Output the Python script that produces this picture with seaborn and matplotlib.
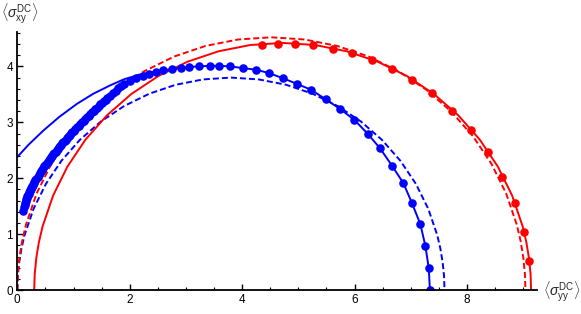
"""Semicircle plot: <sigma_xy^DC> against <sigma_yy^DC>, two samples (blue, red)."""

import matplotlib
matplotlib.use("Agg")
import matplotlib.pyplot as plt
from matplotlib.ticker import MultipleLocator
import seaborn as sns

sns.set_style("white")
plt.rcParams.update({
    "font.family": ["Liberation Sans", "DejaVu Sans"],
    "mathtext.fontset": "custom",
    "mathtext.rm": "Liberation Sans",
    "mathtext.it": "Liberation Sans:italic",
    "mathtext.bf": "Liberation Sans:bold",
})

BLUE = "#0000FF"
RED = "#FF0000"

# blue data points (very dense at small sigma_yy, forming a thick band)
blue_pts_x = [0.11, 0.12, 0.13, 0.14, 0.15, 0.16, 0.17, 0.18, 0.19, 0.20,
              0.21, 0.22, 0.23, 0.24, 0.25, 0.26, 0.27, 0.28, 0.29, 0.30,
              0.32, 0.34, 0.36, 0.38, 0.40, 0.42, 0.44, 0.46, 0.48, 0.50,
              0.52, 0.54, 0.56, 0.58, 0.60, 0.62, 0.64, 0.66, 0.68, 0.70,
              0.72, 0.74, 0.76, 0.78, 0.80, 0.82, 0.84, 0.86, 0.88, 0.90,
              0.92, 0.94, 0.96, 0.98, 1.00,
              1.03, 1.06, 1.09, 1.12, 1.15, 1.18, 1.21, 1.24, 1.27, 1.30,
              1.33, 1.36, 1.39, 1.42, 1.45, 1.48, 1.51, 1.54, 1.57, 1.60,
              1.65, 1.70, 1.75, 1.80, 1.85, 1.90,
              2.01, 2.12, 2.23, 2.35, 2.47, 2.60, 2.75, 2.91, 3.06,
              3.23, 3.42, 3.59, 3.78, 4.01, 4.25, 4.48, 4.72, 4.97, 5.23, 5.49, 5.74,
              5.99, 6.23, 6.45, 6.67, 6.87, 7.02, 7.17, 7.26, 7.32, 7.34]
blue_pts_y = [1.410, 1.483, 1.526, 1.562, 1.594, 1.623, 1.650, 1.676, 1.700, 1.724,
              1.747, 1.769, 1.790, 1.811, 1.831, 1.851, 1.870, 1.889, 1.907, 1.926,
              1.961, 1.995, 2.028, 2.061, 2.092, 2.123, 2.153, 2.183, 2.212, 2.240,
              2.268, 2.296, 2.323, 2.350, 2.376, 2.402, 2.427, 2.453, 2.478, 2.502,
              2.527, 2.551, 2.575, 2.599, 2.622, 2.645, 2.668, 2.691, 2.713, 2.736,
              2.758, 2.780, 2.802, 2.823, 2.845,
              2.877, 2.908, 2.939, 2.970, 3.001, 3.031, 3.061, 3.091, 3.120, 3.150,
              3.179, 3.207, 3.236, 3.264, 3.292, 3.320, 3.347, 3.375, 3.402, 3.429,
              3.474, 3.518, 3.562, 3.605, 3.648, 3.690,
              3.745, 3.790, 3.830, 3.865, 3.900, 3.930, 3.950, 3.970, 3.990,
              4.00, 4.01, 4.01, 4.00, 3.97, 3.94, 3.88, 3.79, 3.69, 3.58, 3.41, 3.24,
              3.05, 2.80, 2.54, 2.22, 1.91, 1.56, 1.18, 0.79, 0.39, 0.00]

# blue solid curve
blue_fit_x = [0.00, 0.20, 0.46, 0.75, 1.06, 1.35, 1.65, 1.90, 2.20, 2.47, 2.60, 2.75,
              2.91, 3.06, 3.23, 3.42, 3.59, 3.78, 4.01, 4.25, 4.48, 4.72, 4.97, 5.23,
              5.49, 5.74, 5.99, 6.23, 6.45, 6.67, 6.87, 7.02, 7.17, 7.26, 7.32, 7.34]
blue_fit_y = [2.38, 2.60, 2.85, 3.10, 3.33, 3.51, 3.66, 3.77, 3.86, 3.91, 3.93, 3.95,
              3.97, 3.99, 4.00, 4.01, 4.01, 4.00, 3.97, 3.94, 3.88, 3.79, 3.69, 3.58,
              3.41, 3.24, 3.05, 2.80, 2.54, 2.22, 1.91, 1.56, 1.18, 0.79, 0.39, 0.00]

# blue dashed semicircle
blue_dash_x = [0.000, 0.008, 0.033, 0.073, 0.129, 0.289, 0.509, 0.785, 1.113, 1.487,
               1.900, 2.346, 2.816, 3.304, 3.800, 4.296, 4.784, 5.254, 5.700, 6.113,
               6.487, 6.815, 7.091, 7.311, 7.471, 7.527, 7.567, 7.592, 7.600]
blue_dash_y = [0.000, 0.249, 0.496, 0.741, 0.984, 1.454, 1.900, 2.313, 2.687, 3.015,
               3.291, 3.511, 3.671, 3.767, 3.800, 3.767, 3.671, 3.511, 3.291, 3.015,
               2.687, 2.313, 1.900, 1.454, 0.984, 0.741, 0.496, 0.249, 0.000]

# red data points
red_pts_x = [4.35, 4.63, 4.94, 5.26, 5.61, 5.95, 6.31, 6.66, 7.02, 7.38, 7.73, 8.07,
             8.37, 8.63, 8.86, 9.02, 9.11]
red_pts_y = [4.38, 4.40, 4.40, 4.38, 4.31, 4.24, 4.12, 3.95, 3.75, 3.52, 3.21, 2.86,
             2.47, 2.03, 1.56, 1.04, 0.52]

# red solid curve
red_fit_x = [0.300, 0.310, 0.338, 0.385, 0.451, 0.637, 0.892, 1.213, 1.595, 2.029,
             2.510, 3.029, 3.576, 4.143, 4.720, 5.297, 5.864, 6.411, 6.930, 7.411,
             7.845, 8.227, 8.548, 8.803, 8.989, 9.055, 9.102, 9.131, 9.140]
red_fit_y = [0.000, 0.289, 0.577, 0.862, 1.144, 1.691, 2.210, 2.691, 3.125, 3.507,
             3.828, 4.084, 4.269, 4.382, 4.420, 4.382, 4.269, 4.084, 3.828, 3.507,
             3.125, 2.691, 2.210, 1.691, 1.144, 0.862, 0.577, 0.289, 0.000]

# red dashed semicircle
red_dash_x = [0.000, 0.010, 0.039, 0.087, 0.154, 0.344, 0.606, 0.934, 1.324, 1.768,
              2.260, 2.790, 3.350, 3.930, 4.520, 5.110, 5.690, 6.250, 6.780, 7.272,
              7.716, 8.106, 8.434, 8.696, 8.886, 8.953, 9.001, 9.030, 9.040]
red_dash_y = [0.000, 0.296, 0.590, 0.882, 1.170, 1.730, 2.260, 2.752, 3.196, 3.586,
              3.914, 4.176, 4.366, 4.481, 4.520, 4.481, 4.366, 4.176, 3.914, 3.586,
              3.196, 2.752, 2.260, 1.730, 1.170, 0.882, 0.590, 0.296, 0.000]

x_ticks = [0, 2, 4, 6, 8]
y_ticks = [0, 1, 2, 3, 4]

LW = 1.4
DASH = (0, (3.1, 1.55))
DOT = 38

fig = plt.figure(figsize=(5.81, 3.14), dpi=100)
ax = fig.add_axes([17.3 / 581, 23.8 / 314, (536.7 - 17.3) / 581, (290.2 - 31.7) / 314])

sns.lineplot(x=blue_dash_x, y=blue_dash_y, sort=False, estimator=None, ax=ax,
             color=BLUE, lw=LW, linestyle=DASH)
sns.lineplot(x=red_dash_x, y=red_dash_y, sort=False, estimator=None, ax=ax,
             color=RED, lw=LW, linestyle=DASH)
sns.lineplot(x=red_fit_x, y=red_fit_y, sort=False, estimator=None, ax=ax,
             color=RED, lw=LW)
sns.lineplot(x=blue_fit_x, y=blue_fit_y, sort=False, estimator=None, ax=ax,
             color=BLUE, lw=LW)
sns.scatterplot(x=red_pts_x, y=red_pts_y, ax=ax, color=RED, s=DOT, linewidth=0, zorder=4)
sns.scatterplot(x=blue_pts_x, y=blue_pts_y, ax=ax, color=BLUE, s=DOT, linewidth=0, zorder=4)

ax.set_xlim(0, 9.24)
ax.set_ylim(0, 4.62)
ax.set_xticks(x_ticks)
ax.set_yticks(y_ticks)
ax.xaxis.set_minor_locator(MultipleLocator(0.5))
ax.yaxis.set_minor_locator(MultipleLocator(0.2))
ax.tick_params(which="major", direction="in", length=4.0, width=1.0, labelsize=8.5,
               colors="black", pad=3)
ax.tick_params(which="minor", direction="in", length=2.2, width=0.8, colors="black")
ax.tick_params(axis="x", which="both", bottom=True, top=False)
ax.tick_params(axis="y", which="both", left=True, right=False)

for side in ["top", "right"]:
    ax.spines[side].set_visible(False)
for side in ["left", "bottom"]:
    ax.spines[side].set_color("black")
    ax.spines[side].set_linewidth(1.3)
    ax.spines[side].set_zorder(5)

ax.set_xlabel("")
ax.set_ylabel("")
ax.grid(False)

fig.text(1 / 581, 1 - 14 / 314, r"$\langle\sigma_{\mathrm{xy}}^{\mathrm{DC}}\rangle$",
         ha="left", va="center", fontsize=10)
fig.text(543 / 581, 1 - 292 / 314, r"$\langle\sigma_{\mathrm{yy}}^{\mathrm{DC}}\rangle$",
         ha="left", va="center", fontsize=10)

fig.savefig("out.png", dpi=100)
plt.close(fig)
